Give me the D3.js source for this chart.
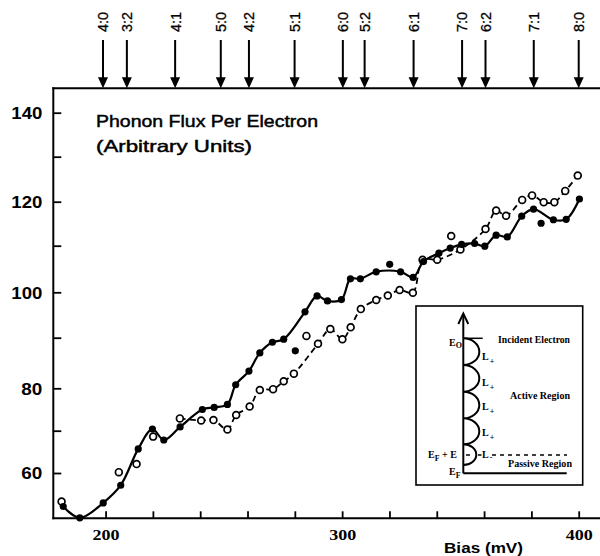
<!DOCTYPE html>
<html><head><meta charset="utf-8">
<script src="https://cdn.jsdelivr.net/npm/d3@7/dist/d3.min.js"></script>
<style>body{margin:0;background:#fff}svg{display:block}</style>
</head><body>
<svg id="chart" width="600" height="556"></svg>
<script>
// ---- data ----
const filledBias = [182.1,189.1,199.0,206.4,213.8,219.8,224.6,231.5,240.9,245.9,251.5,255.0,260.6,265.2,270.5,275.3,280.2,284.3,289.4,293.8,299.7,303.5,307.7,314.4,320.1,324.7,330.0,334.4,340.9,345.7,350.5,356.0,360.3,365.1,369.8,375.9,380.9,384.1,389.3,394.7,400.3];
const filledFlux = [52.6,50.1,53.4,57.3,65.7,70.4,67.8,70.9,75.0,75.5,76.2,80.7,83.4,87.0,89.1,89.7,87.4,95.7,99.2,98.1,98.4,102.9,102.9,104.4,106.0,104.4,103.2,106.6,108.4,109.5,110.3,110.5,109.9,112.4,112.0,116.7,118.3,115.1,115.9,116.0,120.6];
const filledOnCurve = [1,1,1,1,1,1,1,1,1,1,1,1,1,1,1,1,0,1,1,1,1,1,1,1,0,1,1,1,1,1,1,1,1,1,1,1,1,0,1,1,1];

const openBias = [181.4,205.6,213.1,220.1,231.4,240.4,245.6,251.5,255.2,260.9,265.2,270.8,275.3,279.6,284.9,289.8,295.0,300.1,303.6,307.9,314.4,319.3,324.3,329.9,334.0,340.2,346.1,350.0,360.6,365.1,369.3,376.1,380.3,385.2,389.7,394.3,399.6];
const openFlux = [53.7,60.2,62.1,68.6,72.9,72.4,72.5,70.3,73.7,75.7,79.6,79.8,81.4,82.9,90.4,88.8,91.9,89.7,92.3,96.3,98.3,99.3,100.5,99.9,107.0,107.0,112.2,109.2,113.8,118.0,116.8,120.4,121.4,119.9,119.9,122.4,125.8];
const openOnCurve = [0,0,0,0,1,1,1,1,1,1,1,1,1,1,0,1,1,1,1,1,1,1,1,1,1,1,0,1,1,1,1,1,1,1,1,1,1];

const modeLabels = ["4:0","3:2","4:1","5:0","4:2","5:1","6:0","5:2","6:1","7:0","6:2","7:1","8:0"];
const modeBias   = [198.9,209.0,229.4,248.7,260.6,279.9,300.3,309.5,330.2,350.7,360.6,381.0,400.0];

const xTickValues = [200,220,240,260,280,300,320,340,360,380,400];
const xTickLabels = [200,300,400];
const yTickValues = [60,70,80,90,100,110,120,130,140];
const yTickLabels = [60,80,100,120,140];

const titleLines = ["Phonon Flux Per Electron","(Arbitrary Units)"];
const xAxisTitle = "Bias (mV)";

(function(){
// ---- drawing ----
const svg = d3.select("#chart");
const pL = 53.3, pR = 600, pT = 88.3, pB = 518.3;

const x = d3.scaleLinear().domain([177.9, 409]).range([pL, pR]);
// calibration of the (slightly distorted) printed axis
const y = d3.scaleLinear()
  .domain([50,60,70,80,90,100,110,120,130,140,145.4])
  .range([pB,473,430.7,388.3,337.7,292.3,245.7,201.7,156.7,112.7,pT]);

const sans = "'Liberation Sans', Arial, sans-serif";
const serif = "'Liberation Serif', 'Times New Roman', serif";

// frame lines
svg.append("line").attr("x1",pL).attr("x2",pL).attr("y1",pT-1).attr("y2",pB+1)
  .attr("stroke","#000").attr("stroke-width",2);
svg.append("line").attr("x1",pL-1).attr("x2",pR).attr("y1",pT).attr("y2",pT)
  .attr("stroke","#000").attr("stroke-width",2);
svg.append("line").attr("x1",pL-1).attr("x2",pR).attr("y1",pB).attr("y2",pB)
  .attr("stroke","#000").attr("stroke-width",2);

// y axis
const yAxis = svg.append("g").attr("transform",`translate(${pL},0)`)
  .call(d3.axisLeft(y).tickValues(yTickValues).tickSize(-8)
    .tickFormat(d => yTickLabels.includes(d) ? d : ""));
yAxis.select(".domain").remove();
yAxis.selectAll(".tick line").attr("stroke","#000").attr("stroke-width",1.8);
yAxis.selectAll(".tick text")
  .attr("x",-11).attr("dy","0.36em")
  .attr("font-family",sans).attr("font-weight","bold").attr("font-size",16)
  .attr("fill","#000")
  .each(function(d){ if (yTickLabels.includes(d)) d3.select(this)
      .attr("textLength", String(d).length === 3 ? 31 : 21)
      .attr("lengthAdjust","spacingAndGlyphs"); });

// x axis
const xAxis = svg.append("g").attr("transform",`translate(0,${pB})`)
  .call(d3.axisBottom(x).tickValues(xTickValues).tickSize(-7)
    .tickFormat(d => xTickLabels.includes(d) ? d : ""));
xAxis.select(".domain").remove();
xAxis.selectAll(".tick line").attr("stroke","#000").attr("stroke-width",1.8);
xAxis.selectAll(".tick text")
  .attr("y",22).attr("dy","0")
  .attr("font-family",serif).attr("font-weight","bold").attr("font-size",15)
  .attr("fill","#000")
  .each(function(d){ if (xTickLabels.includes(d)) d3.select(this)
      .attr("textLength",27).attr("lengthAdjust","spacingAndGlyphs"); });

svg.append("text").attr("x",444).attr("y",553)
  .attr("font-family",sans).attr("font-weight","bold").attr("font-size",15.5)
  .attr("textLength",79).attr("lengthAdjust","spacingAndGlyphs")
  .text(xAxisTitle);

// title
svg.append("text").attr("x",96).attr("y",127)
  .attr("font-family",sans).attr("font-size",16.5)
  .attr("stroke","#000").attr("stroke-width",0.45)
  .attr("textLength",222).attr("lengthAdjust","spacingAndGlyphs")
  .text(titleLines[0]);
svg.append("text").attr("x",96).attr("y",152)
  .attr("font-family",sans).attr("font-size",16.5)
  .attr("stroke","#000").attr("stroke-width",0.45)
  .attr("textLength",156).attr("lengthAdjust","spacingAndGlyphs")
  .text(titleLines[1]);

// mode arrows along the top
const modes = modeLabels.map((l,i)=>({label:l, bias:modeBias[i]}));
const mg = svg.append("g").selectAll("g").data(modes).join("g")
  .attr("transform", d => `translate(${x(d.bias)},0)`);
mg.append("line").attr("x1",0).attr("x2",0).attr("y1",40).attr("y2",pT-8)
  .attr("stroke","#000").attr("stroke-width",2);
mg.append("path").attr("d",`M-5,${pT-11} L5,${pT-11} L0,${pT} Z`).attr("fill","#000");
mg.append("text").attr("transform","translate(0,32) rotate(-90)")
  .attr("dy","0.36em").attr("text-anchor","start")
  .attr("font-family",sans).attr("font-size",15)
  .attr("stroke","#000").attr("stroke-width",0.3)
  .attr("textLength",20).attr("lengthAdjust","spacingAndGlyphs")
  .text(d => d.label);

// series
const filled = filledBias.map((b,i)=>({b, f:filledFlux[i], on:filledOnCurve[i]}));
const open = openBias.map((b,i)=>({b, f:openFlux[i], on:openOnCurve[i]}));

const line = d3.line().x(d=>x(d.b)).y(d=>y(d.f)).curve(d3.curveCatmullRom.alpha(0.5));

svg.append("path").attr("d", line(open.filter(d=>d.on)))
  .attr("fill","none").attr("stroke","#000").attr("stroke-width",1.8)
  .attr("stroke-dasharray","6,4");
svg.append("path").attr("d", line(filled.filter(d=>d.on)))
  .attr("fill","none").attr("stroke","#000").attr("stroke-width",2.2);

svg.append("g").selectAll("circle").data(open).join("circle")
  .attr("cx",d=>x(d.b)).attr("cy",d=>y(d.f)).attr("r",3.4)
  .attr("fill","#fff").attr("stroke","#000").attr("stroke-width",1.7);
svg.append("g").selectAll("circle").data(filled).join("circle")
  .attr("cx",d=>x(d.b)).attr("cy",d=>y(d.f)).attr("r",3.6)
  .attr("fill","#000");

// inset diagram
const ins = svg.append("g").attr("transform","translate(416,306)");
ins.append("rect").attr("x",0).attr("y",0).attr("width",166.7).attr("height",179)
  .attr("fill","#fff").attr("stroke","#000").attr("stroke-width",1.6);
const ax = 47.3, ay0 = 167.3;
ins.append("line").attr("x1",ax).attr("x2",ax).attr("y1",ay0).attr("y2",8)
  .attr("stroke","#000").attr("stroke-width",2);
ins.append("path").attr("d",`M${ax-5},18 L${ax},7.5 L${ax+5},18`)
  .attr("fill","none").attr("stroke","#000").attr("stroke-width",2);
ins.append("line").attr("x1",ax).attr("x2",150.7).attr("y1",ay0).attr("y2",ay0)
  .attr("stroke","#000").attr("stroke-width",2);
ins.append("line").attr("x1",ax).attr("x2",66.7).attr("y1",32.3).attr("y2",32.3)
  .attr("stroke","#000").attr("stroke-width",1.5);
const levels = [32.3,59,85.7,112.3,138.3,159];
let arcs = "";
for (let i=0;i<levels.length-1;i++){
  const ry=(levels[i+1]-levels[i])/2, rx = i<4 ? 16 : 13;
  arcs += `M${ax},${levels[i]} A${rx},${ry} 0 0 1 ${ax},${levels[i+1]} `;
}
ins.append("path").attr("d",arcs).attr("fill","none").attr("stroke","#000").attr("stroke-width",2);
// passive level dashed line
ins.append("line").attr("x1",50).attr("x2",54).attr("y1",149).attr("y2",149)
  .attr("stroke","#000").attr("stroke-width",1.5);
ins.append("line").attr("x1",62).attr("x2",65.5).attr("y1",149).attr("y2",149)
  .attr("stroke","#000").attr("stroke-width",1.5);
ins.append("line").attr("x1",76).attr("x2",151).attr("y1",149).attr("y2",149)
  .attr("stroke","#000").attr("stroke-width",1.5).attr("stroke-dasharray","4,4");

const t = (xx,yy,txt,len,anchor) => {
  const e = ins.append("text").attr("x",xx).attr("y",yy)
    .attr("font-family",serif).attr("font-weight","bold").attr("font-size",10)
    .attr("text-anchor",anchor||"start").text(txt);
  if (len) e.attr("textLength",len).attr("lengthAdjust","spacingAndGlyphs");
  return e;
};
t(82,37,"Incident Electron",72);
t(94,93,"Active Region",60);
t(92,161,"Passive Region",64);
const e0 = t(33,40,"E"); e0.append("tspan").attr("dy",2).attr("font-size",8).text("O");
[54,80,104,130].forEach(yy=>{
  const l = t(66,yy,"L"); l.append("tspan").attr("dx",1).attr("dy",4).attr("font-size",8).text("+");
});
const lm = t(66,152,"L"); lm.append("tspan").attr("dx",1).attr("dy",2).attr("font-size",8).text("-");
const ef = t(12,152,"E"); ef.append("tspan").attr("dy",3).attr("font-size",8).text("F");
ef.append("tspan").attr("dy",-3).text(" + E");
const ef2 = t(33,169,"E"); ef2.append("tspan").attr("dy",3).attr("font-size",8).text("F");
})();
</script>
</body></html>
